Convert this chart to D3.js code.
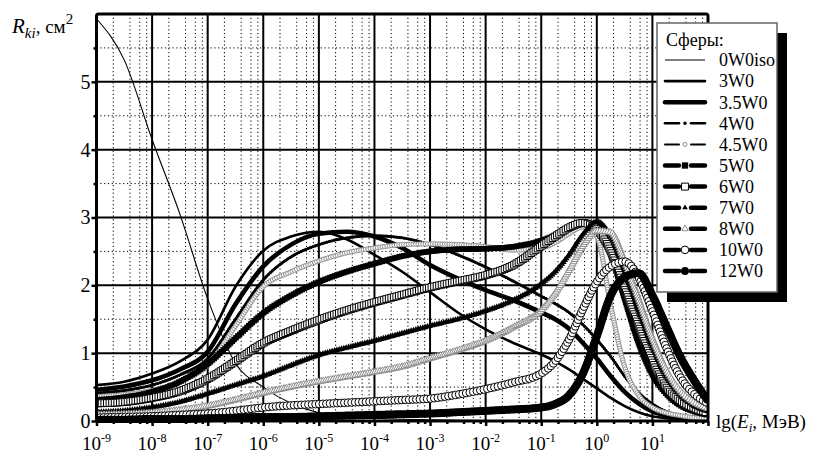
<!DOCTYPE html>
<html>
<head>
<meta charset="utf-8">
<script src="https://cdn.jsdelivr.net/npm/d3@7"></script>
<style>
  body { margin: 0; background: #fff; }
</style>
</head>
<body>
<div id="chart"></div>
<script>
const lgE = [-9, -8.5, -8, -7.5, -7, -6.5, -6, -5.5, -5, -4.5, -4, -3.5, -3, -2.5, -2, -1.5,
  -1, -0.75, -0.5, -0.25, 0, 0.25, 0.5, 0.75, 1, 1.25, 1.5, 1.75, 2];

const names = ["0W0iso", "3W0", "3.5W0", "4W0", "4.5W0", "5W0", "6W0", "7W0", "8W0", "10W0", "12W0"];

const r0W0iso = [5.93, 5.32, 4.15, 3.05, 1.8, 0.85, 0.5, 0.26, 0.12, 0.07, 0.04, 0.025, 0.016, 0.01, 0.007, 0.005,
  0.003, 0.003, 0.002, 0.002, 0.001, 0.001, 0.001, 0, 0, 0, 0, 0, 0];
const r3W0 = [0.53, 0.58, 0.7, 0.88, 1.2, 1.98, 2.51, 2.72, 2.79, 2.68, 2.45, 2.2, 1.9, 1.6, 1.35, 1.15,
  0.98, 0.88, 0.76, 0.62, 0.48, 0.34, 0.22, 0.13, 0.07, 0.04, 0.02, 0.01, 0.01];
const r3_5W0 = [0.46, 0.51, 0.6, 0.76, 1.02, 1.72, 2.28, 2.6, 2.76, 2.79, 2.72, 2.55, 2.3, 2.1, 1.93, 1.78,
  1.6, 1.5, 1.36, 1.15, 0.92, 0.66, 0.43, 0.26, 0.14, 0.08, 0.04, 0.02, 0.01];
const r4W0 = [0.41, 0.45, 0.53, 0.68, 0.92, 1.5, 2.08, 2.42, 2.6, 2.7, 2.73, 2.7, 2.6, 2.45, 2.27, 2.06,
  1.84, 1.73, 1.6, 1.42, 1.2, 0.95, 0.66, 0.42, 0.25, 0.14, 0.08, 0.04, 0.02];
const r4_5W0 = [0.36, 0.39, 0.45, 0.58, 0.82, 1.4, 1.98, 2.2, 2.36, 2.48, 2.55, 2.6, 2.61, 2.6, 2.57, 2.52,
  2.55, 2.63, 2.76, 2.86, 2.72, 1.7, 0.8, 0.38, 0.2, 0.12, 0.08, 0.05, 0.04];
const r5W0 = [0.31, 0.35, 0.43, 0.58, 0.84, 1.22, 1.59, 1.85, 2.05, 2.2, 2.32, 2.43, 2.5, 2.53, 2.54, 2.57,
  2.66, 2.74, 2.84, 2.9, 2.88, 2.45, 1.8, 1.15, 0.68, 0.4, 0.23, 0.14, 0.09];
const r6W0 = [0.26, 0.28, 0.34, 0.44, 0.62, 0.88, 1.15, 1.33, 1.49, 1.63, 1.75, 1.86, 1.97, 2.06, 2.15, 2.3,
  2.58, 2.72, 2.85, 2.92, 2.82, 2.5, 1.95, 1.4, 0.88, 0.5, 0.3, 0.19, 0.12];
const r7W0 = [0.13, 0.15, 0.2, 0.28, 0.4, 0.53, 0.66, 0.82, 0.97, 1.08, 1.18, 1.29, 1.4, 1.5, 1.62, 1.78,
  2.02, 2.2, 2.45, 2.75, 2.94, 2.72, 2.2, 1.62, 1.08, 0.65, 0.38, 0.22, 0.14];
const r8W0 = [0.09, 0.1, 0.12, 0.16, 0.22, 0.31, 0.41, 0.5, 0.58, 0.65, 0.72, 0.8, 0.92, 1.04, 1.18, 1.38,
  1.63, 1.88, 2.22, 2.58, 2.8, 2.78, 2.35, 1.8, 1.22, 0.75, 0.44, 0.27, 0.18];
const r10W0 = [0.05, 0.06, 0.07, 0.09, 0.11, 0.15, 0.2, 0.23, 0.25, 0.27, 0.29, 0.31, 0.33, 0.39, 0.47, 0.57,
  0.7, 0.88, 1.2, 1.65, 2.05, 2.28, 2.35, 2.12, 1.62, 1.08, 0.65, 0.4, 0.26];
const r12W0 = [0.02, 0.02, 0.03, 0.03, 0.04, 0.05, 0.06, 0.06, 0.07, 0.08, 0.09, 0.1, 0.11, 0.13, 0.15, 0.17,
  0.2, 0.25, 0.38, 0.7, 1.25, 1.85, 2.12, 2.18, 1.85, 1.4, 0.95, 0.6, 0.3];

const values = [r0W0iso, r3W0, r3_5W0, r4W0, r4_5W0, r5W0, r6W0, r7W0, r8W0, r10W0, r12W0];

// tick labels
const decadeExp = [-9, -8, -7, -6, -5, -4, -3, -2, -1, 0, 1];
const yTicks = [0, 1, 2, 3, 4, 5];

const FONT = '"Liberation Serif", serif';

// drawing styles (one per series)
const grey = "#8c8c8c";
const styles = [
  {w: 1.1},
  {w: 2.6},
  {w: 4.6},
  {w: 2.4, sym: d3.symbolCircle, size: 8, fill: "#000", stroke: "none", step: 2.5, lw: 2.6, lsize: 10},
  {w: 0, sym: d3.symbolCircle, size: 15, fill: "#fff", stroke: grey, step: 2.4, lw: 2, lsize: 12},
  {w: 4, sym: d3.symbolSquare, size: 30, fill: "#000", stroke: "none", step: 2.5, lw: 4.5, lsize: 40},
  {w: 0, sym: d3.symbolSquare, size: 46, fill: "#fff", stroke: "#000", step: 2.6, lw: 4.5, lsize: 48},
  {w: 2, sym: d3.symbolTriangle, size: 18, fill: "#000", stroke: "none", step: 2.4, lw: 4.5, lsize: 14},
  {w: 0, sym: d3.symbolTriangle, size: 20, fill: "#fff", stroke: grey, step: 2.5, lw: 4.5, lsize: 18},
  {w: 0, sym: d3.symbolCircle, size: 46, fill: "#fff", stroke: "#000", step: 3.6, lw: 4.5, lsize: 46},
  {w: 4, sym: d3.symbolCircle, size: 50, fill: "#000", stroke: "none", step: 2.5, lw: 4.5, lsize: 50}
];

const width = 814, height = 454;
const margin = {top: 14, right: 106, bottom: 33, left: 96.5};

const svg = d3.select("#chart").append("svg")
  .attr("width", width).attr("height", height)
  .attr("font-family", FONT);

const x = d3.scaleLog().domain([1e-9, 1e2]).range([margin.left, width - margin.right]);
const y = d3.scaleLinear().domain([0, 6]).range([height - margin.bottom, margin.top]);
const x0 = x.range()[0], x1 = x.range()[1], y0 = y.range()[0], y1 = y.range()[1];

// grid
const minorX = [];
d3.range(-9, 2).forEach(k => [2, 4, 6, 8].forEach(m => minorX.push(m * Math.pow(10, k))));
const grid = svg.append("g");
grid.selectAll(".gxm").data(minorX).join("line")
  .attr("x1", d => x(d)).attr("x2", d => x(d)).attr("y1", y1).attr("y2", y0)
  .attr("stroke", "#000").attr("stroke-width", 1).attr("stroke-dasharray", "1.2,2.6");
grid.selectAll(".gym").data(d3.range(0.5, 6, 1)).join("line")
  .attr("x1", x0).attr("x2", x1).attr("y1", d => y(d)).attr("y2", d => y(d))
  .attr("stroke", "#000").attr("stroke-width", 1).attr("stroke-dasharray", "1.2,2.6");
grid.selectAll(".gx").data(decadeExp.slice(1)).join("line")
  .attr("x1", d => x(Math.pow(10, d))).attr("x2", d => x(Math.pow(10, d))).attr("y1", y1).attr("y2", y0)
  .attr("stroke", "#000").attr("stroke-width", 2);
grid.selectAll(".gy").data(yTicks.slice(1)).join("line")
  .attr("x1", x0).attr("x2", x1).attr("y1", d => y(d)).attr("y2", d => y(d))
  .attr("stroke", "#000").attr("stroke-width", 2);

// curves
svg.append("clipPath").attr("id", "clip").append("rect")
  .attr("x", x0).attr("y", y1 - 2).attr("width", x1 - x0).attr("height", y0 - y1 + 4);
const plot = svg.append("g").attr("clip-path", "url(#clip)");

const line = d3.line()
  .x(d => x(Math.pow(10, d[0])))
  .y(d => y(d[1]))
  .curve(d3.curveMonotoneX);

values.forEach((vals, i) => {
  const st = styles[i];
  const pts = lgE.map((e, j) => [e, vals[j]]);
  const path = plot.append("path").datum(pts)
    .attr("d", line)
    .attr("fill", "none")
    .attr("stroke", "#000")
    .attr("stroke-width", st.w || 0.01)
    .attr("stroke-opacity", st.w ? 1 : 0)
    .attr("stroke-linejoin", "round");
  if (st.sym) {
    // markers sit densely along the drawn curve
    const node = path.node();
    const len = node.getTotalLength();
    const marks = d3.range(0, len, st.step).map(l => node.getPointAtLength(l));
    plot.append("g").selectAll("path").data(marks).join("path")
      .attr("transform", p => `translate(${p.x},${p.y})`)
      .attr("d", d3.symbol(st.sym, st.size))
      .attr("fill", st.fill)
      .attr("stroke", st.stroke)
      .attr("stroke-width", 1);
  }
});

// frame
svg.append("rect")
  .attr("x", x0).attr("y", y1).attr("width", x1 - x0).attr("height", y0 - y1)
  .attr("fill", "none").attr("stroke", "#000").attr("stroke-width", 3).attr("rx", 2);

// axes ticks
const xAxisG = svg.append("g").attr("transform", `translate(0,${y0})`);
xAxisG.call(d3.axisBottom(x).tickValues(decadeExp.map(d => Math.pow(10, d)).concat([100])).tickSize(5).tickFormat(""));
xAxisG.append("g").call(d3.axisBottom(x).tickValues(minorX).tickSize(3).tickFormat(""));
xAxisG.selectAll(".domain").remove();
xAxisG.selectAll("line").attr("stroke-width", 2.5);

const yAxisG = svg.append("g").attr("transform", `translate(${x0},0)`);
yAxisG.call(d3.axisLeft(y).tickValues(yTicks).tickSize(5).tickFormat(d3.format("d")));
yAxisG.append("g").call(d3.axisLeft(y).tickValues(d3.range(0.5, 6, 1)).tickSize(3).tickFormat(""));
yAxisG.attr("font-family", FONT);
yAxisG.selectAll(".domain").remove();
yAxisG.selectAll("line").attr("stroke-width", 2.5);
yAxisG.selectAll("text").attr("font-size", 20).attr("x", -6).attr("fill", "#000");

// x tick labels 10^n
const xl = svg.append("g").selectAll("text").data(decadeExp).join("text")
  .attr("x", d => x(Math.pow(10, d)))
  .attr("y", 450)
  .attr("text-anchor", "middle")
  .attr("font-size", 19);
xl.append("tspan").text("10");
xl.append("tspan").attr("dy", -8).attr("font-size", 12).text(d => d);

// axis titles
const yt = svg.append("text").attr("x", 12).attr("y", 33).attr("font-size", 21);
yt.append("tspan").attr("font-style", "italic").text("R");
yt.append("tspan").attr("font-style", "italic").attr("font-size", 15).attr("dy", 5).text("ki");
yt.append("tspan").attr("dy", -5).attr("font-size", 19).text(", см");
yt.append("tspan").attr("font-size", 15).attr("dy", -9).text("2");

const xt = svg.append("text").attr("x", 716).attr("y", 428).attr("font-size", 19);
xt.append("tspan").text("lg(");
xt.append("tspan").attr("font-style", "italic").text("E");
xt.append("tspan").attr("font-style", "italic").attr("font-size", 13).attr("dy", 4).text("i");
xt.append("tspan").attr("dy", -4).text(", МэВ)");

// legend
const lg = svg.append("g");
const lx = 657, ly = 23, lw = 120, lh = 269;
lg.append("rect").attr("x", lx + 10).attr("y", ly + 10).attr("width", lw).attr("height", lh).attr("fill", "#000");
lg.append("rect").attr("x", lx).attr("y", ly).attr("width", lw).attr("height", lh)
  .attr("fill", "#fff").attr("stroke", "#666").attr("stroke-width", 1.5);
lg.append("text").attr("x", lx + 9).attr("y", ly + 23).attr("font-size", 18).text("Сферы:");

const items = lg.selectAll(".item").data(names).join("g")
  .attr("transform", (d, i) => `translate(0,${60 + i * 21.1})`);
items.each(function(d, i) {
  const g = d3.select(this);
  const st = styles[i];
  if (!st.sym) {
    g.append("line").attr("x1", 665).attr("x2", 705).attr("stroke", "#000")
      .attr("stroke-width", st.w).attr("stroke-linecap", i ? "round" : "butt");
  } else {
    [[665, 679], [691, 705]].forEach(s => g.append("line")
      .attr("x1", s[0]).attr("x2", s[1]).attr("stroke", "#000")
      .attr("stroke-width", st.lw).attr("stroke-linecap", "round"));
    g.append("path").attr("transform", "translate(685,0)")
      .attr("d", d3.symbol(st.sym, st.lsize))
      .attr("fill", st.fill).attr("stroke", st.stroke).attr("stroke-width", 1);
  }
  g.append("text").attr("x", 719).attr("dy", "0.35em").attr("font-size", 18).text(d);
});

svg.selectAll("text").style("font-family", FONT);
</script>
</body>
</html>
